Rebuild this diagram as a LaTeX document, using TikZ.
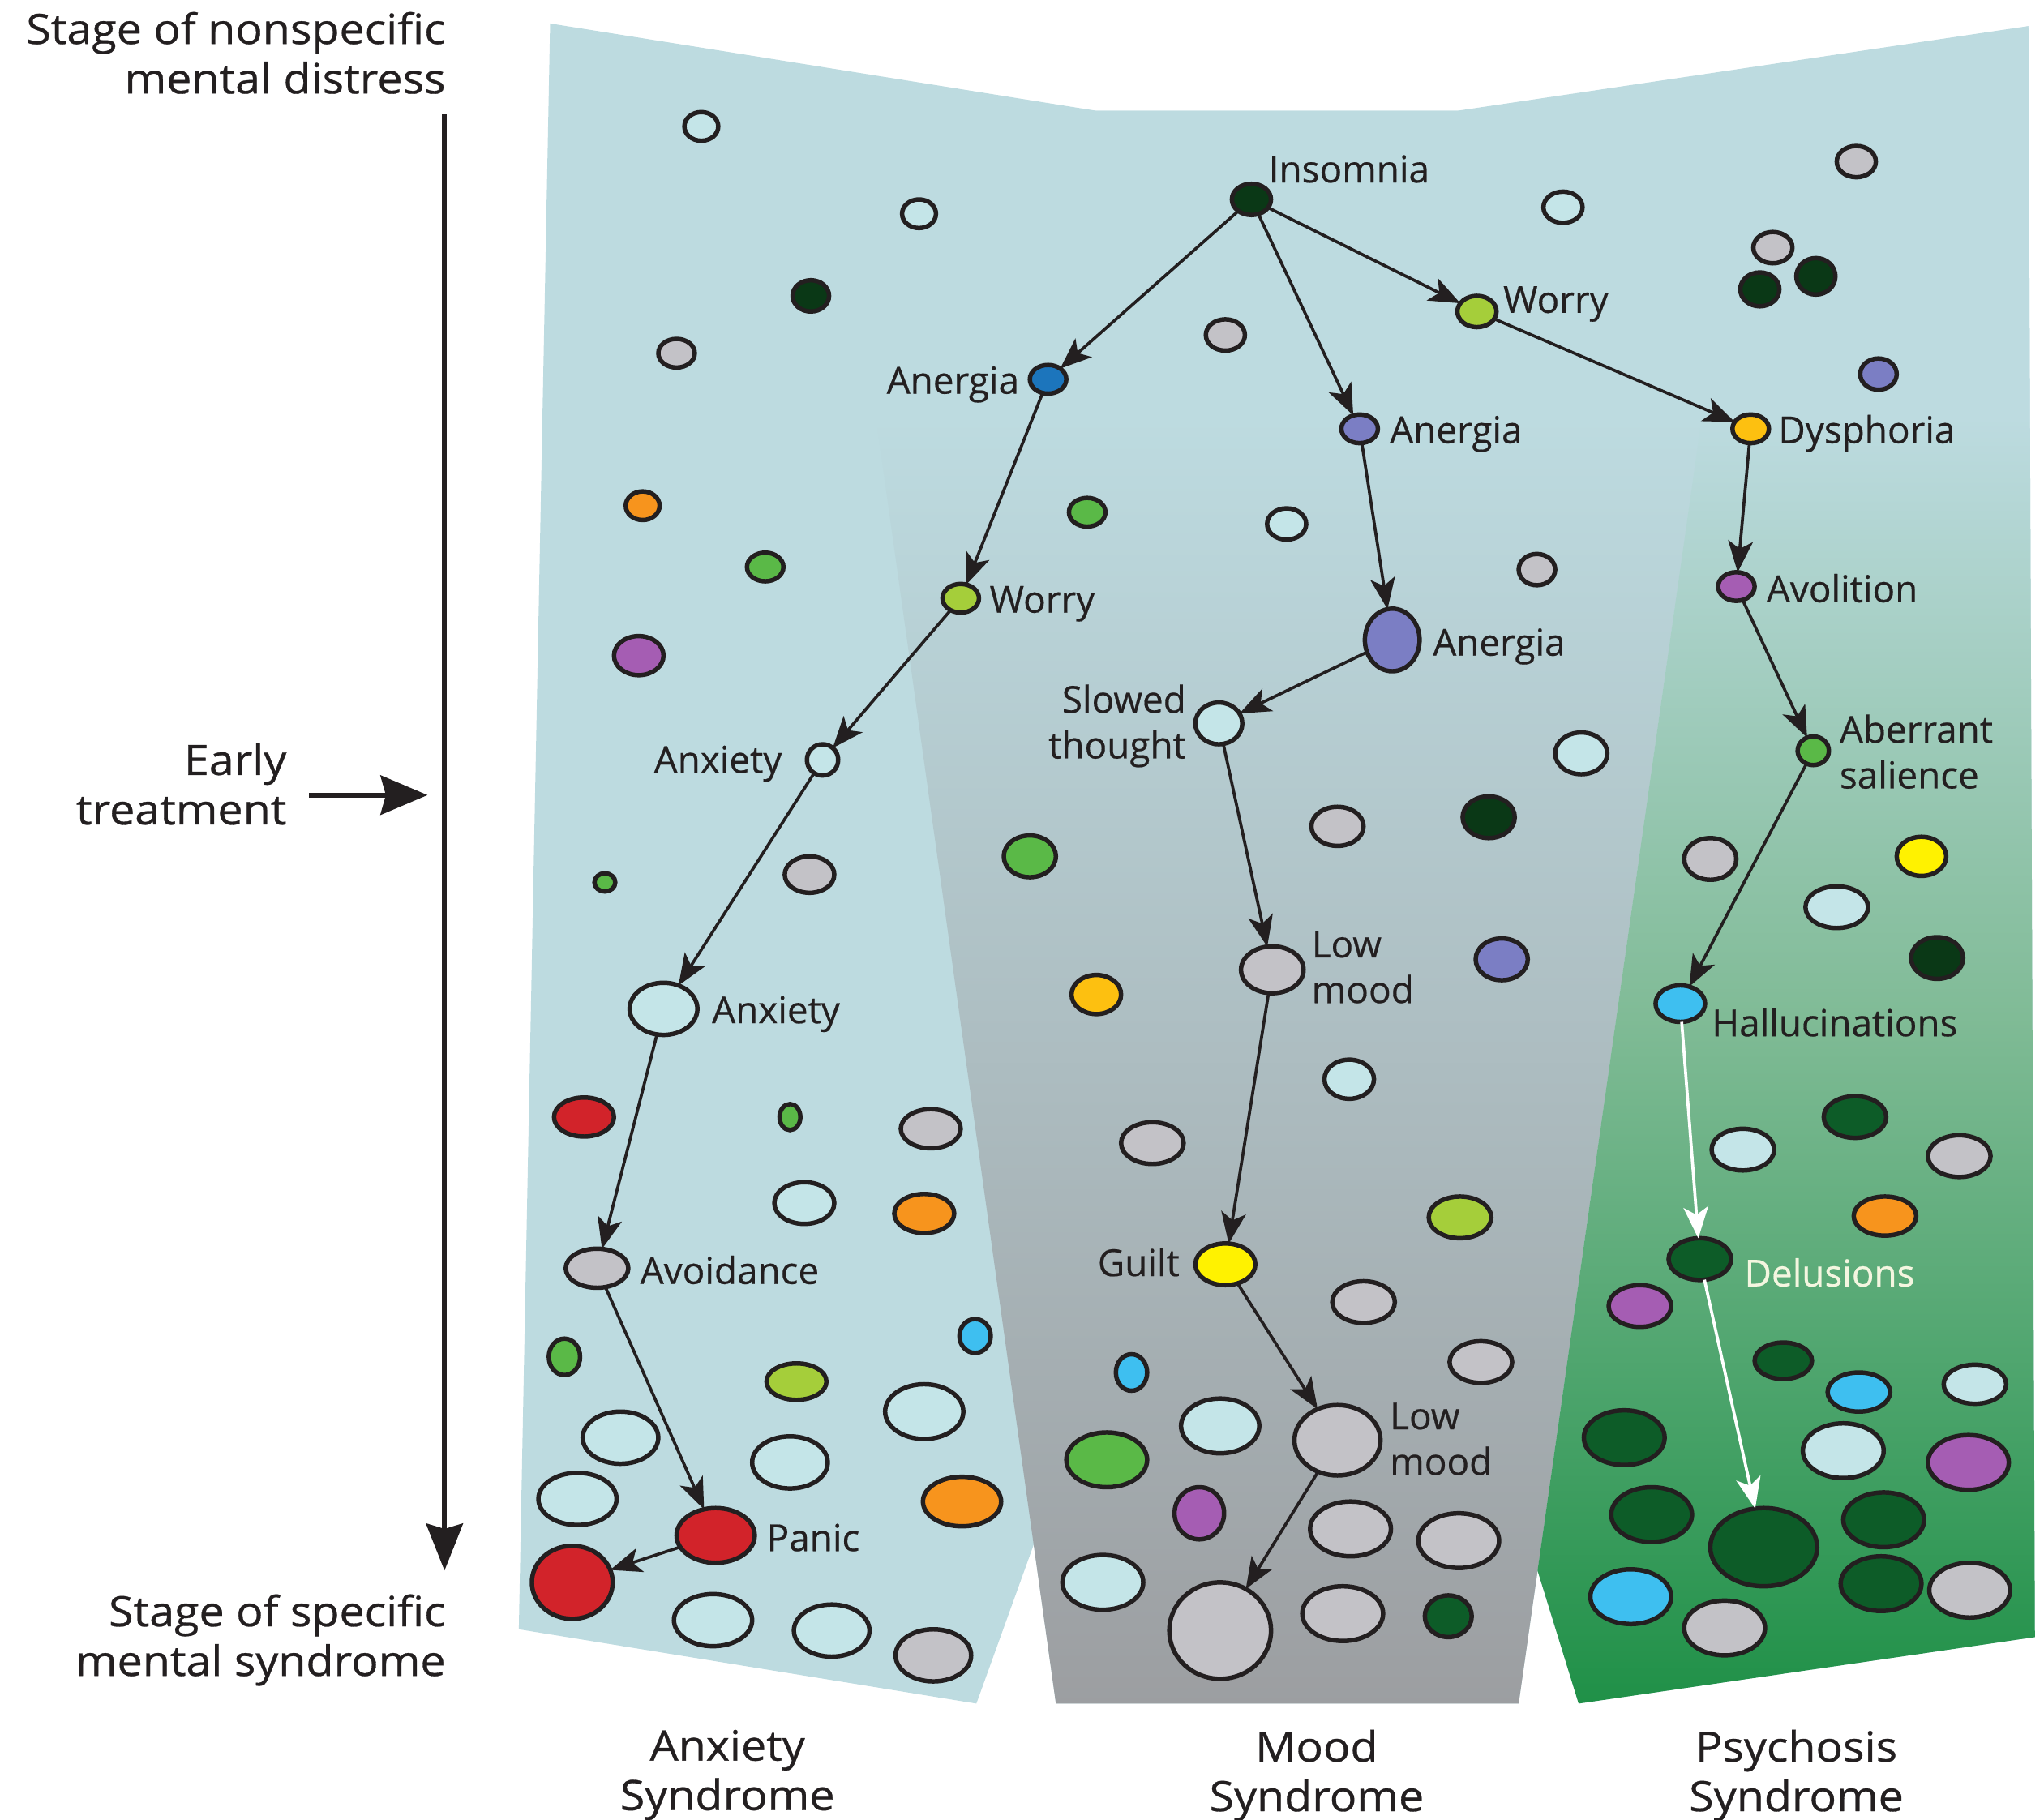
\documentclass[tikz,border=0pt]{standalone}
\usepackage{fontspec}
\setmainfont{Open Sans}[FakeBold=0.4]
\newfontfamily\sidefam{Open Sans}[FakeStretch=1.08, FakeBold=0.6]
\usepackage{xcolor}
\usepackage{tikz}
\usetikzlibrary{arrows.meta, positioning, shapes.geometric}
\definecolor{bgblue}{HTML}{BDDBE0}
\definecolor{moodgray}{HTML}{9C9EA1}
\definecolor{psymid}{HTML}{80BB96}
\definecolor{psygreen}{HTML}{1F9047}
\definecolor{pale}{HTML}{C4E5E8}
\definecolor{ash}{HTML}{C3C2C7}
\definecolor{night}{HTML}{0A3816}
\definecolor{forest}{HTML}{0D5C28}
\definecolor{leaf}{HTML}{5AB947}
\definecolor{lime}{HTML}{A5CE3A}
\definecolor{amber}{HTML}{F7941D}
\definecolor{plum}{HTML}{A55DB3}
\definecolor{lavender}{HTML}{7B7EC4}
\definecolor{royal}{HTML}{1C75BC}
\definecolor{sky}{HTML}{3EBFF0}
\definecolor{scarlet}{HTML}{D2232A}
\definecolor{lemon}{HTML}{FFF200}
\definecolor{gold}{HTML}{FDC010}
\definecolor{ink}{HTML}{231F20}
\definecolor{paletext}{HTML}{F4F6E0}
\newcommand\labfont{\fontsize{28.5}{35}\selectfont}
\newcommand\sidefont{\sidefam\fontsize{32}{38}\selectfont}

\begin{document}
\begin{tikzpicture}[x=1pt, y=-1pt,
  dot/.style n args={3}{ellipse, draw=ink, line width=3.4pt, inner sep=0pt,
    outer sep=0pt, fill=#1, minimum width=#2pt, minimum height=#3pt},
  lab/.style={font=\labfont, text=ink, inner sep=0pt},
  side/.style={font=\sidefont, text=ink, inner sep=0pt},
  link/.style={draw=ink, line width=2.3pt,
    -{Stealth[length=24pt, width=19pt, inset=6pt]}},
  whitelink/.style={link, draw=white}]
  \useasboundingbox (0,0) rectangle (1568,1396);

  % Panels
  \fill[bgblue] (422,18) -- (841,85) -- (1118,85) -- (1556,20) -- (1561,1256)
    -- (1211,1307) -- (1179.5,1205) -- (1165,1307) -- (810,1307) -- (793,1185)
    -- (749,1307) -- (398,1250) -- cycle;
  \begin{scope}
    \clip (639,85) -- (1339,85) -- (1165,1307) -- (810,1307) -- cycle;
    \fill[bgblue] (600,80) rectangle (1400,320);
    \shade[top color=bgblue, bottom color=moodgray] (600,320) rectangle (1400,1310);
  \end{scope}
  \begin{scope}
    \clip (1339,85) -- (1556,20) -- (1561,1256) -- (1211,1307) -- (1179.5,1205) -- cycle;
    \fill[bgblue] (1150,0) rectangle (1570,320);
    \shade[top color=bgblue, bottom color=psymid] (1150,320) rectangle (1570,780);
    \shade[top color=psymid, bottom color=psygreen] (1150,780) rectangle (1570,1310);
  \end{scope}

  % Stage axis
  \coordinate (axtop) at (341,88);
  \coordinate (axbot) at (341,1205);
  \coordinate (etail) at (237,610);
  \coordinate (ehead) at (328,610);
  \draw[ink, line width=4pt, -{Stealth[length=36pt, width=28pt, inset=4pt]}] (axtop) -- (axbot);
  \draw[ink, line width=4pt, -{Stealth[length=36pt, width=30pt, inset=4pt]}] (etail) -- (ehead);
  \node[side, anchor=north east, align=right] (nonspec) at (342,9) {Stage of nonspecific\\mental distress};
  \node[side, anchor=north east, align=right] (early) at (220,570) {Early\\treatment};
  \node[side, anchor=north east, align=right] (specific) at (342,1223) {Stage of specific\\mental syndrome};
  \node[side, anchor=north, align=center] (anxsyn) at (558,1327) {Anxiety\\Syndrome};
  \node[side, anchor=north, align=center] (moodsyn) at (1010,1327) {Mood\\Syndrome};
  \node[side, anchor=north, align=center] (psysyn) at (1378,1327) {Psychosis\\Syndrome};

  % Anxiety panel
  \node[dot={pale}{26}{22}] (l1) at (538,97) {};
  \node[dot={pale}{26}{22}] (l2) at (705,164) {};
  \node[dot={night}{28}{24}] (l3) at (622,227) {};
  \node[dot={ash}{28}{22}] (l4) at (519,271) {};
  \node[dot={amber}{26}{22}] (l5) at (493,388) {};
  \node[dot={leaf}{28}{22}] (l6) at (587,435) {};
  \node[dot={plum}{38}{30}] (l7) at (490,503) {};
  \node[dot={leaf}{16}{14}] (l8) at (464,677) {};
  \node[dot={ash}{38}{28}] (l9) at (621,671) {};
  \node[dot={scarlet}{46}{30}] (l10) at (448,857) {};
  \node[dot={leaf}{16}{20}] (l11) at (606,857) {};
  \node[dot={ash}{46}{30}] (l12) at (714,866) {};
  \node[dot={pale}{46}{32}] (l13) at (617,923) {};
  \node[dot={amber}{46}{30}] (l14) at (709,931) {};
  \node[dot={leaf}{24}{28}] (l15) at (433,1041) {};
  \node[dot={lime}{46}{28}] (l16) at (611,1060) {};
  \node[dot={sky}{24}{26}] (l17) at (748,1025) {};
  \node[dot={pale}{58}{40}] (l18) at (476,1103) {};
  \node[dot={pale}{60}{42}] (l19) at (709,1083) {};
  \node[dot={pale}{58}{40}] (l20) at (606,1122) {};
  \node[dot={pale}{60}{40}] (l21) at (443,1150) {};
  \node[dot={amber}{60}{38}] (l22) at (738,1152) {};
  \node[dot={pale}{60}{40}] (l23) at (547,1243) {};
  \node[dot={pale}{58}{40}] (l24) at (638,1251) {};
  \node[dot={ash}{58}{40}] (l25) at (716,1270) {};
  \node[dot={royal}{28}{22}] (anergiaA) at (804,291) {};
  \node[dot={lime}{28}{22}] (worryA) at (737,459) {};
  \node[dot={pale}{24}{24}] (anxietyA) at (631,583) {};
  \node[dot={pale}{52}{40}] (anxietyB) at (509,774) {};
  \node[dot={ash}{48}{30}] (avoid) at (458,973) {};
  \node[dot={scarlet}{60}{42}] (panic) at (549,1178) {};
  \node[dot={scarlet}{62}{56}] (panicB) at (439,1214) {};

  % Mood panel
  \node[dot={night}{30}{24}] (insomnia) at (960,153) {};
  \node[dot={ash}{30}{24}] (m1) at (940,257) {};
  \node[dot={pale}{30}{24}] (m2) at (987,402) {};
  \node[dot={ash}{28}{24}] (m3) at (1179,437) {};
  \node[dot={pale}{30}{24}] (m4) at (1199,159) {};
  \node[dot={leaf}{28}{22}] (m5) at (834,393) {};
  \node[dot={lime}{30}{24}] (worryB) at (1133,239) {};
  \node[dot={lavender}{28}{22}] (anergiaB) at (1043,329) {};
  \node[dot={lavender}{42}{48}] (anergiaC) at (1068,491) {};
  \node[dot={pale}{36}{32}] (slowed) at (935,555) {};
  \node[dot={pale}{40}{32}] (m6) at (1213,578) {};
  \node[dot={ash}{40}{30}] (m7) at (1026,634) {};
  \node[dot={night}{40}{32}] (m8) at (1142,627) {};
  \node[dot={leaf}{40}{32}] (m9) at (790,657) {};
  \node[dot={ash}{48}{36}] (lowA) at (976,744) {};
  \node[dot={lavender}{40}{32}] (m10) at (1152,736) {};
  \node[dot={gold}{38}{30}] (m11) at (841,763) {};
  \node[dot={pale}{38}{30}] (m12) at (1035,828) {};
  \node[dot={ash}{48}{32}] (m13) at (884,877) {};
  \node[dot={lime}{48}{32}] (m14) at (1120,934) {};
  \node[dot={lemon}{46}{32}] (guilt) at (940,970) {};
  \node[dot={ash}{48}{32}] (m15) at (1046,999) {};
  \node[dot={sky}{24}{28}] (m16) at (868,1053) {};
  \node[dot={ash}{48}{32}] (m17) at (1136,1045) {};
  \node[dot={pale}{60}{42}] (m18) at (936,1094) {};
  \node[dot={ash}{66}{54}] (lowB) at (1026,1105) {};
  \node[dot={leaf}{62}{42}] (m19) at (849,1120) {};
  \node[dot={plum}{38}{40}] (m20) at (920,1161) {};
  \node[dot={ash}{62}{42}] (m21) at (1036,1173) {};
  \node[dot={ash}{62}{42}] (m22) at (1119,1182) {};
  \node[dot={pale}{62}{42}] (m23) at (846,1214) {};
  \node[dot={ash}{78}{74}] (moodend) at (936,1251) {};
  \node[dot={ash}{62}{42}] (m24) at (1030,1238) {};
  \node[dot={forest}{36}{32}] (m25) at (1111,1240) {};

  % Psychosis panel
  \node[dot={ash}{30}{24}] (p1) at (1424,124) {};
  \node[dot={ash}{30}{24}] (p2) at (1360,190) {};
  \node[dot={night}{30}{26}] (p3) at (1350,222) {};
  \node[dot={night}{30}{28}] (p4) at (1393,212) {};
  \node[dot={lavender}{28}{24}] (p5) at (1441,287) {};
  \node[dot={gold}{28}{22}] (dysph) at (1343,329) {};
  \node[dot={plum}{28}{22}] (avol) at (1332,450) {};
  \node[dot={leaf}{24}{22}] (aberr) at (1391,576) {};
  \node[dot={ash}{40}{32}] (p6) at (1312,659) {};
  \node[dot={lemon}{38}{30}] (p7) at (1474,657) {};
  \node[dot={pale}{48}{32}] (p8) at (1409,696) {};
  \node[dot={night}{40}{32}] (p9) at (1486,735) {};
  \node[dot={sky}{38}{28}] (halluc) at (1289,770) {};
  \node[dot={forest}{48}{32}] (p10) at (1423,857) {};
  \node[dot={pale}{48}{32}] (p11) at (1337,882) {};
  \node[dot={ash}{48}{32}] (p12) at (1503,887) {};
  \node[dot={amber}{48}{30}] (p13) at (1446,933) {};
  \node[dot={forest}{48}{32}] (delus) at (1304,966) {};
  \node[dot={plum}{48}{32}] (p14) at (1258,1002) {};
  \node[dot={forest}{44}{28}] (p15) at (1368,1044) {};
  \node[dot={sky}{48}{30}] (p16) at (1426,1068) {};
  \node[dot={pale}{48}{30}] (p17) at (1515,1062) {};
  \node[dot={forest}{62}{42}] (p18) at (1246,1103) {};
  \node[dot={pale}{62}{42}] (p19) at (1414,1113) {};
  \node[dot={plum}{62}{42}] (p20) at (1510,1122) {};
  \node[dot={forest}{62}{42}] (p21) at (1267,1162) {};
  \node[dot={forest}{82}{60}] (psyend) at (1353,1187) {};
  \node[dot={forest}{62}{42}] (p22) at (1445,1166) {};
  \node[dot={forest}{62}{42}] (p23) at (1443,1215) {};
  \node[dot={ash}{62}{42}] (p24) at (1511,1220) {};
  \node[dot={sky}{62}{42}] (p25) at (1251,1225) {};
  \node[dot={ash}{62}{42}] (p26) at (1323,1249) {};

  % Symptom labels
  \node[lab, anchor=base west] (tinsomnia) at (973,140) {Insomnia};
  \node[lab, anchor=base east] (tanergiaA) at (782,302) {Anergia};
  \node[lab, anchor=base west] (tworryB) at (1153,240) {Worry};
  \node[lab, anchor=base west] (tanergiaB) at (1066,340) {Anergia};
  \node[lab, anchor=base west] (tdysph) at (1364,340) {Dysphoria};
  \node[lab, anchor=base west] (tworryA) at (759,470) {Worry};
  \node[lab, anchor=base west] (tavol) at (1355,462) {Avolition};
  \node[lab, anchor=base west] (tanergiaC) at (1099,503) {Anergia};
  \node[lab, anchor=north east, align=right] (tslowed) at (910,525) {Slowed\\thought};
  \node[lab, anchor=base east] (tanxietyA) at (600,593) {Anxiety};
  \node[lab, anchor=north west, align=left] (taberr) at (1411,548) {Aberrant\\salience};
  \node[lab, anchor=north west, align=left] (tlowA) at (1006,714) {Low\\mood};
  \node[lab, anchor=base west] (tanxietyB) at (546,785) {Anxiety};
  \node[lab, anchor=base west] (thalluc) at (1313,795) {Hallucinations};
  \node[lab, anchor=base west] (tavoid) at (491,985) {Avoidance};
  \node[lab, anchor=base east] (tguilt) at (905,979) {Guilt};
  \node[lab, anchor=base west, text=paletext] (tdelus) at (1338,987) {Delusions};
  \node[lab, anchor=north west, align=left] (tlowB) at (1066,1076) {Low\\mood};
  \node[lab, anchor=base west] (tpanic) at (588,1190) {Panic};

  % Pathways
  \draw[link] (insomnia) -- (anergiaA);
  \draw[link] (insomnia) -- (anergiaB);
  \draw[link] (insomnia) -- (worryB);
  \draw[link] (anergiaA) -- (worryA);
  \draw[link] (worryA) -- (anxietyA);
  \draw[link] (anxietyA) -- (anxietyB);
  \draw[link] (anxietyB) -- (avoid);
  \draw[link] (avoid) -- (panic);
  \draw[link] (panic) -- (panicB);
  \draw[link] (anergiaB) -- (anergiaC);
  \draw[link] (anergiaC) -- (slowed);
  \draw[link] (slowed) -- (lowA);
  \draw[link] (lowA) -- (guilt);
  \draw[link] (guilt) -- (lowB);
  \draw[link] (lowB) -- (moodend);
  \draw[link] (worryB) -- (dysph);
  \draw[link] (dysph) -- (avol);
  \draw[link] (avol) -- (aberr);
  \draw[link] (aberr) -- (halluc);
  \draw[whitelink] (halluc) -- (delus);
  \draw[whitelink] (delus) -- (psyend);
\end{tikzpicture}
\end{document}
